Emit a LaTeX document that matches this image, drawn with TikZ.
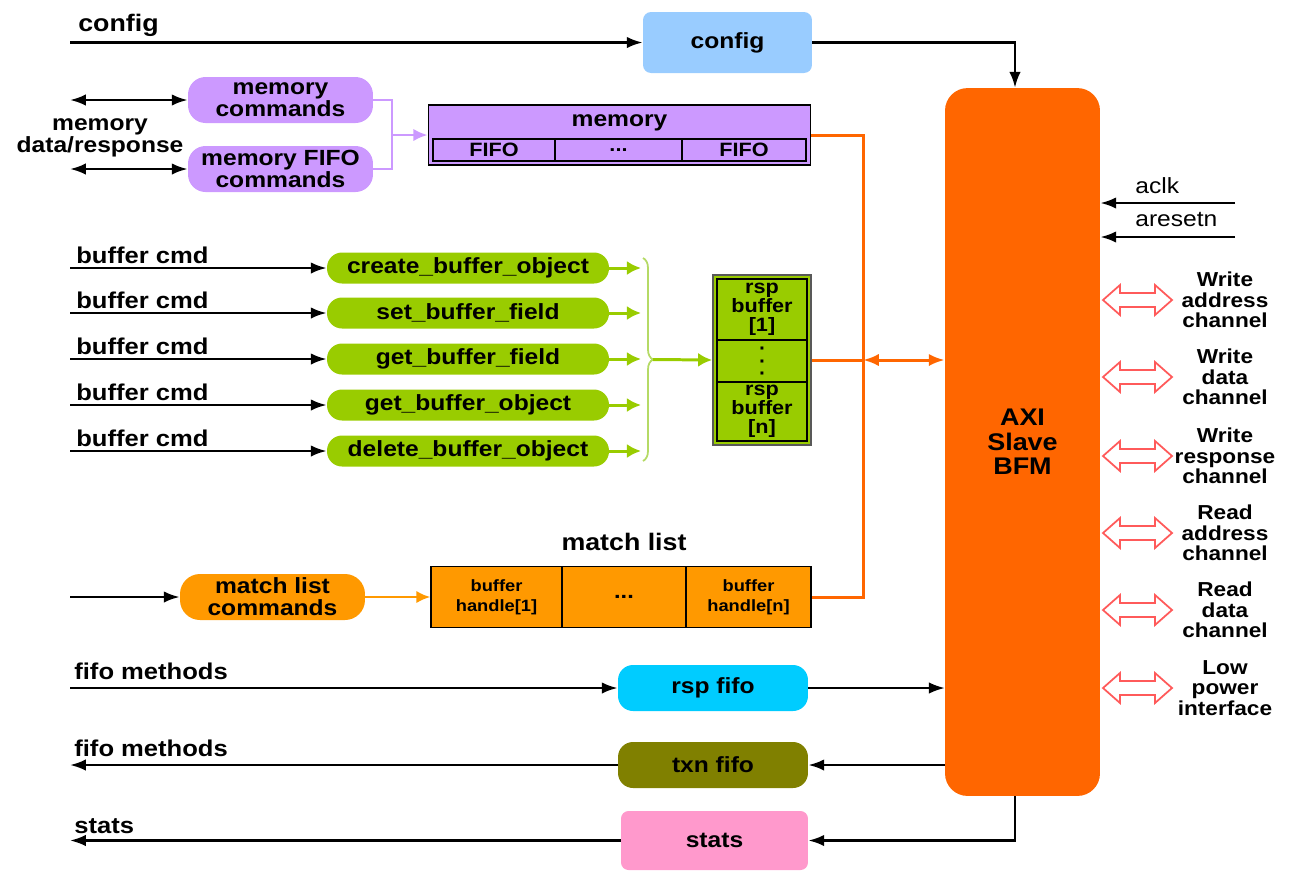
\documentclass[tikz,border=0pt]{standalone}
\usepackage{fontspec}
\setmainfont{Liberation Sans}[FakeStretch=1.12]
\usetikzlibrary{arrows.meta,decorations.pathreplacing}
\definecolor{cfgblue}{HTML}{99CCFF}
\definecolor{axiorange}{HTML}{FF6600}
\definecolor{mempurple}{HTML}{CC99FF}
\definecolor{bufgreen}{HTML}{99CC00}
\definecolor{bracegreen}{HTML}{B5DA66}
\definecolor{mlorange}{HTML}{FF9900}
\definecolor{rspcyan}{HTML}{00CCFF}
\definecolor{txnolive}{HTML}{808000}
\definecolor{statspink}{HTML}{FF99CC}
\definecolor{chanred}{HTML}{FF5A5A}
\tikzset{
  pics/chanarrow/.style={code={
    \draw[chanred, line width=1pt] (-34.5,0) -- (-17.5,-15) -- (-17.5,-7) -- (17.5,-7) -- (17.5,-15)
      -- (34.5,0) -- (17.5,15) -- (17.5,7) -- (-17.5,7) -- (-17.5,15) -- cycle;
  }}
}
\begin{document}
\begin{tikzpicture}[x=0.02cm,y=-0.02cm,
    every node/.style={font=\fontsize{12.5}{12.5}\selectfont\bfseries, inner sep=0pt, align=center},
    blk/.style={rounded corners=0.3cm, minimum width=3.8cm, minimum height=0.92cm},
    pill/.style={rounded corners=0.3cm, minimum width=5.64cm, minimum height=0.62cm, fill=bufgreen},
    cell/.style={draw=black, line width=0.6pt, minimum height=0.44cm, fill=mempurple, font=\fontsize{11}{11}\selectfont\bfseries},
    rspcell/.style={draw=black, line width=0.6pt, minimum width=1.8cm, fill=bufgreen, font=\fontsize{11}{10.8}\selectfont\bfseries},
    mlcell/.style={draw=black, line width=0.6pt, minimum height=1.22cm, fill=mlorange, font=\fontsize{9.3}{11.3}\selectfont\bfseries},
    arr/.style={line width=1.4pt, -{Latex[length=9pt,width=6.5pt]}},
    dblarr/.style={line width=1.4pt, {Latex[length=9pt,width=6.5pt]}-{Latex[length=9pt,width=6.5pt]}},
    memline/.style={mempurple, line width=1.3pt},
    greenarr/.style={bufgreen, line width=1.7pt, -{Latex[length=8pt,width=8pt]}},
    busline/.style={axiorange, line width=1.7pt},
    lbl/.style={anchor=west, font=\fontsize{13}{13}\selectfont\bfseries},
    chan/.style={font=\fontsize{11.5}{11.6}\selectfont\bfseries}
  ]
  \useasboundingbox (0,0) rectangle (1289,870);

  % config
  \node[blk, fill=cfgblue, minimum width=3.38cm, minimum height=1.22cm, rounded corners=0.16cm] (cfg) at (727.5,42.5) {config};
  \node[lbl, font=\fontsize{13.6}{13.6}\selectfont\bfseries] (cfglbl) at (78,25) {config};
  \coordinate (cfgin) at (70,42.5);
  \draw[arr] (cfgin) -- (cfg);

  % AXI slave
  \node[fill=axiorange, minimum width=3.1cm, minimum height=14.16cm, rounded corners=0.45cm,
        font=\fontsize{13.7}{13.9}\selectfont\bfseries] (axi) at (1022.5,442) {AXI\\Slave\\BFM};
  \draw[arr] (cfg.east) -| ([xshift=-0.15cm]axi.north);

  % memory
  \node[blk, fill=mempurple, minimum width=3.7cm, rounded corners=0.35cm] (memcmd) at (280.5,100) {memory\\commands};
  \node[blk, fill=mempurple, minimum width=3.7cm, rounded corners=0.35cm] (memfifocmd) at (280.5,169) {memory FIFO\\commands};
  \node (memlbl) at (100,138) {memory\\data/response};
  \coordinate (mdain) at (70,100);
  \coordinate (mdbin) at (70,169);
  \draw[dblarr] (mdain) -- (memcmd);
  \draw[dblarr] (mdbin) -- (memfifocmd);
  \node[draw, fill=mempurple, line width=0.6pt, minimum width=7.66cm, minimum height=1.2cm] (mem) at (619.5,135) {};
  \node (memttl) at (619.5,123) {memory};
  \node[cell, minimum width=2.44cm] (fifoa) at (494,150) {FIFO};
  \node[cell, minimum width=2.54cm] (fifodots) at (618.5,150) {...};
  \node[cell, minimum width=2.48cm] (fifob) at (744,150) {FIFO};
  \coordinate (memjoin) at (392,135);
  \draw[memline] (memcmd.east) -| (memjoin) |- (memfifocmd.east);
  \draw[memline, -{Latex[length=8pt,width=7pt]}] (memjoin) -- (mem.west);

  % buffer commands
  \foreach \y/\nm/\txt in {268/create/create\_buffer\_object, 313/setf/set\_buffer\_field,
      359/getf/get\_buffer\_field, 405/geto/get\_buffer\_object, 451/delo/delete\_buffer\_object}{
    \node[pill] (\nm) at (468,\y) {\txt};
    \node[lbl] (\nm lbl) at (76,\y-13) {buffer cmd};
    \coordinate (\nm in) at (70,\y);
    \coordinate (\nm out) at (641,\y);
    \draw[arr] (\nm in) -- (\nm);
    \draw[greenarr] (\nm) -- (\nm out);
  }
  \draw[bracegreen, line width=1pt, decorate, decoration={brace, amplitude=0.2cm}] (643,258) -- (643,461);

  % rsp buffer
  \node[draw=gray!70!black, fill=bufgreen, line width=1pt, minimum width=1.96cm, minimum height=3.4cm] (rsp) at (762,360) {};
  \node[rspcell, minimum height=1.22cm] (rspa) at (762,309.5) {rsp\\buffer\\{[1]}};
  \node[rspcell, minimum height=0.84cm] (rspdots) at (762,361) {\rotatebox{-90}{.\kern3.6pt.\kern3.6pt.}};
  \node[rspcell, minimum height=1.18cm] (rspb) at (762,411.5) {rsp\\buffer\\{[n]}};
  \coordinate (bracetip) at (653,359.5);
  \draw[greenarr] (bracetip) -- (rsp.west);

  % match list
  \node[font=\fontsize{13.6}{13.6}\selectfont\bfseries] (mlttl) at (624,542) {match list};
  \node[mlcell, minimum width=2.62cm] (mla) at (496.5,597) {buffer\\handle{[1]}};
  \node[mlcell, minimum width=2.48cm, font=\fontsize{12}{12}\selectfont\bfseries] (mldots) at (624,597) {...};
  \node[mlcell, minimum width=2.5cm] (mlb) at (748.5,597) {buffer\\handle{[n]}};
  \node[blk, fill=mlorange, minimum width=3.7cm, rounded corners=0.4cm] (mlcmd) at (272.5,597) {match list\\commands};
  \coordinate (mlin) at (70,597);
  \draw[arr] (mlin) -- (mlcmd);
  \draw[mlorange, line width=1.5pt, -{Latex[length=8pt,width=7pt]}] (mlcmd) -- (mla);

  % bus to AXI
  \coordinate (busb) at (863,597);
  \draw[busline] (mem.east) -| (busb) -- (mlb.east);
  \draw[busline] (rsp.east) -- (rsp.east -| busb);
  \draw[busline, {Latex[length=9pt,width=7pt]}-{Latex[length=9pt,width=7pt]}] (rsp.east -| busb) -- (rsp.east -| axi.west);

  % fifos and stats
  \node[blk, fill=rspcyan] (rspfifo) at (713,688) {rsp fifo};
  \node[lbl] (fifolbla) at (74,671) {fifo methods};
  \coordinate (fifoin) at (70,688);
  \draw[arr] (fifoin) -- (rspfifo);
  \draw[arr, line width=1pt] (rspfifo) -- (rspfifo -| axi.west);
  \node[blk, fill=txnolive] (txnfifo) at (713,765) {txn fifo};
  \node[lbl] (fifolblb) at (74,748) {fifo methods};
  \coordinate (fifoout) at (70,765);
  \draw[arr] (txnfifo -| axi.west) -- (txnfifo);
  \draw[arr] (txnfifo) -- (fifoout);
  \node[blk, fill=statspink, minimum width=3.74cm, minimum height=1.18cm, rounded corners=0.15cm] (stats) at (714.5,840.5) {stats};
  \node[lbl] (statslbl) at (74,826) {stats};
  \coordinate (statsout) at (70,840.5);
  \draw[arr] ([xshift=-0.15cm]axi.south) |- (stats);
  \draw[arr] (stats) -- (statsout);

  % clock and reset
  \coordinate (aclkin) at (1235,203);
  \coordinate (arstin) at (1235,237);
  \draw[arr] (aclkin) -- (aclkin -| axi.east);
  \draw[arr] (arstin) -- (arstin -| axi.east);
  \node[lbl, font=\fontsize{12.5}{12.5}\selectfont] (aclklbl) at (1135,186) {aclk};
  \node[lbl, font=\fontsize{12.5}{12.5}\selectfont] (arstlbl) at (1135,219) {aresetn};

  % channels
  \foreach \y/\nm/\txt in {300/wa/Write\\address\\channel, 377/wd/Write\\data\\channel,
      456/wr/Write\\response\\channel, 533/ra/Read\\address\\channel,
      610/rd/Read\\data\\channel, 688/lp/Low\\power\\interface}{
    \pic (\nm arr) at (1137.5,\y) {chanarrow};
    \node[chan] (\nm) at (1225,\y) {\txt};
  }
\end{tikzpicture}
\end{document}
